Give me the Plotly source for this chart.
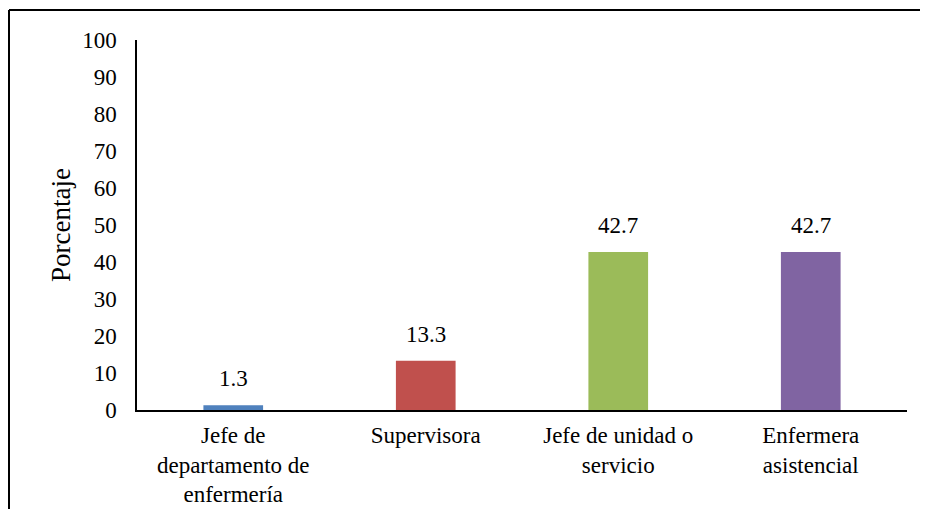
import plotly.graph_objects as go

categories = ["Jefe de<br>departamento de<br>enfermería", "Supervisora",
              "Jefe de unidad o<br>servicio", "Enfermera<br>asistencial"]
values = [1.3, 13.3, 42.7, 42.7]
colors = ["#4F81BD", "#C0504D", "#9BBB59", "#8064A2"]
y_ticks = [0, 10, 20, 30, 40, 50, 60, 70, 80, 90, 100]

# page body has an 8px margin: figure origin sits at (8, 8) in the window
OFF = 8
W, H = 920, 501
L, R, T, B = 137 - OFF, (W + OFF) - 907, 40 - OFF, (H + OFF) - 410
pw, ph = W - L - R, H - T - B

font = dict(family="Liberation Serif", size=23, color="#000")
title_font = dict(family="Liberation Serif", size=27, color="#000")

fig = go.Figure(go.Bar(x=categories, y=values, marker_color=colors,
                       marker_line_width=0, showlegend=False))

for c, v in zip(categories, values):
    fig.add_annotation(x=c, y=v, text=f"{v:.1f}", showarrow=False,
                       yanchor="bottom", yshift=12, font=font)

def px_x(p):
    return (p - OFF - L) / pw

def px_y(p):
    return (H + OFF - B - p) / ph

# outer frame: only top and left edges are inside the window
fig.add_shape(type="line", xref="paper", yref="paper",
              x0=px_x(9), x1=px_x(W + OFF), y0=px_y(10), y1=px_y(10),
              line=dict(color="#000", width=2))
fig.add_shape(type="line", xref="paper", yref="paper",
              x0=px_x(9), x1=px_x(9), y0=px_y(10), y1=px_y(H + OFF),
              line=dict(color="#000", width=2))

fig.update_layout(
    width=W, height=H,
    margin=dict(l=L, r=R, t=T, b=B, autoexpand=False),
    paper_bgcolor="white", plot_bgcolor="white",
    font=font, bargap=0.69,
    xaxis=dict(showline=True, linecolor="#000", linewidth=2, ticks="",
               tickfont=font, showgrid=False, ticklabelstandoff=3),
    yaxis=dict(range=[0, 100], tickvals=y_ticks, showline=True, linecolor="#000",
               linewidth=1.5, ticks="", showgrid=False, zeroline=False,
               tickfont=font, ticklabelstandoff=14,
               title=dict(text="Porcentaje", font=title_font, standoff=4)),
)

fig.write_html("out.html")
